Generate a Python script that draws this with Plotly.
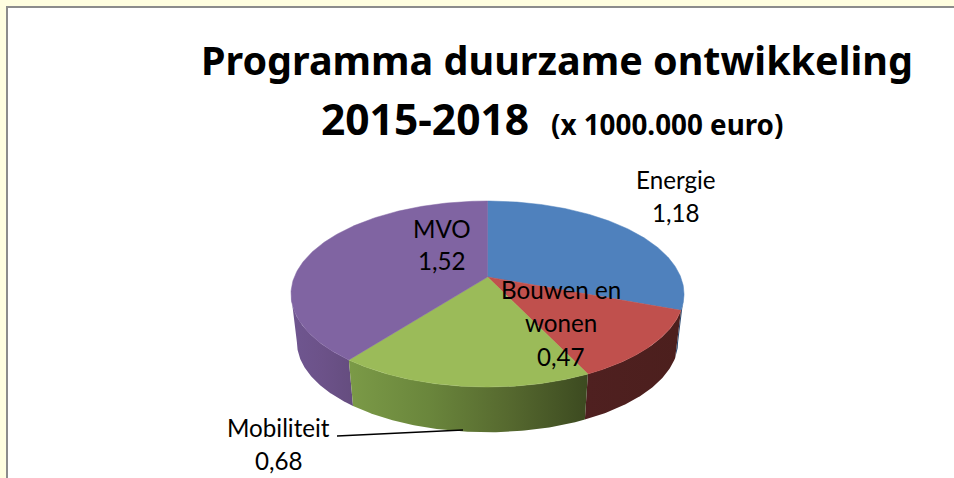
import numpy as np
import plotly.graph_objects as go

categories = ["Energie", "Bouwen en wonen", "Mobiliteit", "MVO"]
values = [1.18, 0.47, 0.68, 1.52]
top_colors = ["#4f81bd", "#c0504d", "#9bbb59", "#8064a2"]
side_stops = [
    ["#2f4d73", "#2f4d73"],
    ["#4f2020", "#4c1f1d"],
    ["#7b9a47", "#6a863c", "#56692f", "#3c4a20"],
    ["#6f5690", "#6c5289", "#654d7f"],
]
title_lines = ["Programma duurzame ontwikkeling", "2015-2018", "(x 1000.000 euro)"]
label_lines = [["Energie", "1,18"], ["Bouwen en", "wonen", "0,47"], ["Mobiliteit", "0,68"], ["MVO", "1,52"]]

W, H = 954, 478
CX, CY, R, A, K = 487.5, 277, 193.2, 89.9, 0.183
BOT_SCALE, ELL_CY, BOT_CY = 0.97, 294, 342
TITLE_FONT = "Noto Sans"
LABEL_FONT = "Lato"


def top_xy(theta):
    u, v = np.sin(theta), np.cos(theta)
    d = 1 + K * v
    return CX + R * u / d, CY - A * v / d


def bottom_xy(theta):
    x, y = top_xy(theta)
    return CX + BOT_SCALE * (x - CX), BOT_CY + BOT_SCALE * (y - ELL_CY)


def arc(a, b, n=90):
    return np.linspace(a, b, n)


edges = np.concatenate([[0], np.cumsum(values)]) / sum(values) * 2 * np.pi
left_ext = 2 * np.pi - np.arccos(-K)
right_ext = np.arccos(-K)
wall_ranges = [(right_ext, edges[1]), (edges[1], edges[2]), (edges[2], edges[3]), (edges[3], left_ext)]

fig = go.Figure()

for i in [3, 0, 1, 2]:
    a, b = wall_ranges[i]
    t = arc(a, b)
    xt, yt = top_xy(t)
    xb, yb = bottom_xy(t[::-1])
    stops = side_stops[i]
    scale = [[j / (len(stops) - 1), c] for j, c in enumerate(stops)]
    fig.add_trace(go.Scatter(
        x=np.concatenate([xt, xb, xt[:1]]), y=np.concatenate([yt, yb, yt[:1]]),
        mode="lines", fill="toself", line=dict(width=0),
        fillgradient=dict(type="horizontal", colorscale=scale),
        hoverinfo="skip", showlegend=False,
    ))

for i, name in enumerate(categories):
    t = arc(edges[i], edges[i + 1], 160)
    x, y = top_xy(t)
    fig.add_trace(go.Scatter(
        x=np.concatenate([[CX], x, [CX]]), y=np.concatenate([[CY], y, [CY]]),
        mode="lines", fill="toself", fillcolor=top_colors[i],
        line=dict(width=0.5, color=top_colors[i]), name=name, showlegend=False,
    ))

# leader line from the Mobiliteit label to its slice
fig.add_trace(go.Scatter(x=[337, 463], y=[436, 430], mode="lines",
                         line=dict(color="#000000", width=1.6), hoverinfo="skip", showlegend=False))


def text(x, y, s, size, family, bold=False):
    fig.add_annotation(x=x, y=y, xref="x", yref="y", text=f"<b>{s}</b>" if bold else s,
                       showarrow=False, xanchor="center", yanchor="middle",
                       font=dict(family=family, size=size, color="#000000"))


text(557, 60, title_lines[0], 39.5, TITLE_FONT, True)
text(425, 118, title_lines[1], 42.5, TITLE_FONT, True)
text(667, 124, title_lines[2], 27.8, TITLE_FONT, True)

label_pos = [[(676, 179), (676, 212)], [(561, 289), (561, 322), (561, 356)], [(278, 427), (279, 460)], [(442, 228), (442, 260)]]
for lines, pos in zip(label_lines, label_pos):
    for s, (x, y) in zip(lines, pos):
        text(x, y, s, 24.2, LABEL_FONT)

fig.update_layout(
    width=W, height=H, margin=dict(l=0, r=0, t=0, b=0),
    paper_bgcolor="#fffee0", plot_bgcolor="#fffee0",
    xaxis=dict(range=[0, W], visible=False, fixedrange=True),
    yaxis=dict(range=[H, 0], visible=False, fixedrange=True),
    shapes=[dict(type="rect", xref="x", yref="y", x0=7, y0=7, x1=W + 20, y1=H + 20,
                 fillcolor="#ffffff", line=dict(color="#8c8c8c", width=2), layer="below")],
)

fig.write_html("out.html", config=dict(displayModeBar=False), post_script="document.body.style.margin='0';")
